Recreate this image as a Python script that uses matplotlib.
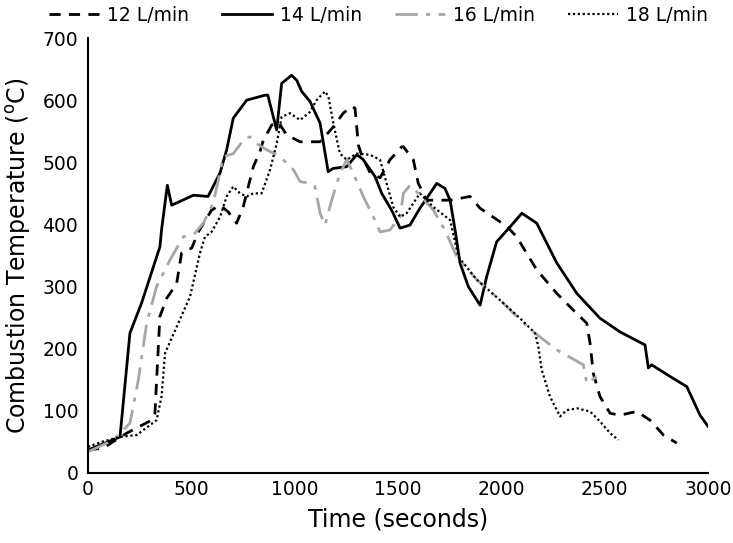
import matplotlib
matplotlib.use("Agg")
import matplotlib.pyplot as plt

# 12 L/min
t12 = [0, 73, 187, 308, 324, 348, 381, 429, 453, 502, 534, 598, 639, 679, 719, 751, 800, 832, 848,
       889, 921, 961, 1026, 1123, 1187, 1235, 1276, 1292, 1308, 1324, 1365, 1413, 1461, 1518, 1526,
       1574, 1598, 1639, 1752, 1848, 1897, 2026, 2074, 2171, 2268, 2348, 2413, 2429, 2445, 2477,
       2526, 2574, 2655, 2719, 2784, 2849]
T12 = [37, 40, 64, 85, 96, 252, 281, 305, 354, 362, 388, 423, 431, 420, 402, 428, 493, 517, 535,
       560, 565, 544, 533, 533, 557, 579, 590, 587, 528, 511, 483, 475, 504, 525, 525,
       504, 466, 439, 439, 445, 426, 397, 380, 327, 289, 262, 241, 209, 160, 123,
       96, 93, 99, 85, 61, 48]

# 14 L/min
t14 = [0, 155, 203, 260, 348, 356, 384, 405, 445, 510, 581, 639, 671, 703, 768, 857, 870, 913, 937,
       985, 1010, 1034, 1074, 1123, 1162, 1185, 1252, 1300, 1330, 1389, 1421, 1469, 1510, 1558,
       1606, 1645, 1687, 1727, 1752, 1776, 1800, 1840, 1897, 1929, 1977, 2042, 2099, 2171, 2268,
       2365, 2477, 2574, 2695, 2711, 2727, 2832, 2897, 2961, 3000]
T14 = [37, 58, 225, 274, 364, 391, 463, 431, 437, 447, 445, 483, 520, 571, 600, 608, 608, 552, 627,
       640, 632, 614, 598, 563, 485, 490, 493, 512, 505, 477, 450, 423, 394, 399,
       426, 445, 466, 458, 439, 391, 338, 300, 270, 316, 372, 396, 418, 402, 338,
       289, 249, 227, 206, 169, 174, 152, 139, 93, 75]

# 16 L/min
t16 = [0, 123, 203, 244, 284, 332, 397, 461, 518, 558, 606, 655, 703, 760, 784, 816, 865, 929, 994,
       1026, 1074, 1098, 1123, 1147, 1179, 1219, 1252, 1284, 1332, 1381, 1413, 1461, 1510, 1526,
       1558, 1606, 1671, 1727, 1784, 1881, 1994, 2074, 2155, 2268, 2397, 2413, 2461]
T16 = [34, 53, 80, 150, 241, 300, 343, 380, 386, 402, 434, 509, 514, 539, 541, 530, 520, 509, 488,
       469, 466, 461, 418, 399, 439, 482, 504, 482, 445, 412, 388, 391, 412, 450,
       463, 447, 423, 391, 348, 311, 278, 252, 227, 198, 174, 144, 155]

# 18 L/min
t18 = [0, 65, 155, 236, 332, 356, 373, 429, 494, 542, 566, 598, 639, 671, 703, 735, 768, 800, 840,
       881, 913, 937, 977, 1026, 1074, 1106, 1147, 1163, 1187, 1219, 1252, 1300, 1365, 1413, 1445,
       1477, 1510, 1542, 1606, 1671, 1752, 1792, 1881, 1994, 2090, 2163, 2179, 2195, 2235, 2284,
       2316, 2365, 2429, 2477, 2526, 2566]
T18 = [42, 50, 58, 61, 85, 123, 193, 235, 284, 354, 380, 388, 412, 445, 461, 450, 445, 450, 450,
       488, 530, 573, 579, 568, 581, 600, 614, 606, 563, 514, 504, 514, 512, 504, 466,
       428, 412, 418, 450, 428, 407, 348, 311, 278, 249, 225, 203, 166, 123, 91,
       101, 104, 99, 83, 64, 53]

fig = plt.figure(figsize=(7.33, 5.43), dpi=100)
ax = fig.add_axes([0.120, 0.129, 0.846, 0.801])

ax.plot(t12, T12, color='black', lw=2.0, ls=(0, (4, 3)), label='12 L/min')
ax.plot(t14, T14, color='black', lw=2.0, ls='-', label='14 L/min')
ax.plot(t16, T16, color='#a6a6a6', lw=2.0, ls=(0, (8, 3, 1.5, 3)), label='16 L/min')
ax.plot(t18, T18, color='black', lw=1.6, ls=(0, (1, 1.2)), label='18 L/min')

ax.set_xlim(0, 3000)
ax.set_ylim(0, 700)
ax.set_xticks(range(0, 3001, 500))
ax.set_yticks(range(0, 701, 100))
ax.tick_params(length=0, labelsize=13.5)
ax.tick_params(axis='y', pad=7)
ax.tick_params(axis='x', pad=5)
for s in ['top', 'right']:
    ax.spines[s].set_visible(False)
for s in ['left', 'bottom']:
    ax.spines[s].set_linewidth(1.5)

ax.set_xlabel('Time (seconds)', fontsize=17, labelpad=6)
ax.set_ylabel(r'Combustion Temperature ($^{\mathrm{o}}$C)', fontsize=17, labelpad=7)

fig.legend(loc='upper center', bbox_to_anchor=(0.516, 1.02), ncol=4, frameon=False,
           fontsize=13.5, handlelength=2.7, columnspacing=1.75, handletextpad=0.4)

fig.savefig('out.png', dpi=100)
